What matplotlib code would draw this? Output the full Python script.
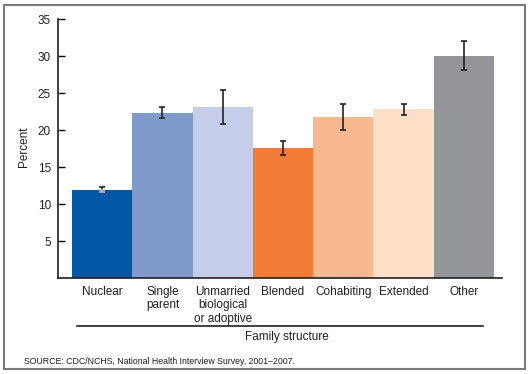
import matplotlib
matplotlib.use("Agg")
import matplotlib.pyplot as plt
from matplotlib.patches import Rectangle
from matplotlib.lines import Line2D

# data
categories = ["Nuclear", "Single\nparent", "Unmarried\nbiological\nor adoptive",
              "Blended", "Cohabiting", "Extended", "Other"]
percent = [12.0, 22.4, 23.2, 17.6, 21.8, 22.9, 30.1]
err_low = [0.4, 0.8, 2.3, 1.0, 1.8, 0.8, 2.0]
err_high = [0.4, 0.8, 2.3, 1.0, 1.8, 0.7, 2.0]
colors = ["#0057a5", "#7f9acb", "#c5cee8", "#f47b36", "#f9b890", "#fedfc8", "#949599"]
yticks = [5, 10, 15, 20, 25, 30, 35]

plt.rcParams["font.family"] = ["Liberation Sans", "DejaVu Sans"]
W, H = 531, 374
fig = plt.figure(figsize=(W / 100, H / 100), dpi=100)
fs = 8.5

# axes placed in pixel terms of the reference
ax = fig.add_axes([58 / W, (H - 278.3) / H, 444 / W, 259 / H])
x = list(range(len(categories)))
ax.bar(x, percent, width=1.0, color=colors, zorder=2)
ax.errorbar(x, percent, yerr=[err_low, err_high], fmt="none", ecolor="#222222",
            elinewidth=1.2, capsize=2, capthick=1.2, zorder=3)
# lower half of the nuclear error bar shows light on the dark bar
ax.errorbar([x[0]], [percent[0] - err_low[0] / 2], yerr=[[err_low[0] / 2], [err_low[0] / 2]],
            fmt="none", ecolor="#b8bcc8", elinewidth=1.2, capsize=2, capthick=1.2, zorder=4)

ax.set_xlim(-0.733, 6.633)
ax.set_ylim(0, 35)
ax.set_yticks(yticks)
ax.set_yticklabels([str(t) for t in yticks], fontsize=fs, color="#231f20")
ax.tick_params(axis="y", direction="in", length=5, width=1.0, pad=5)
ax.set_xticks(x)
ax.set_xticklabels(categories, fontsize=fs, color="#231f20", linespacing=1.17)
ax.tick_params(axis="x", length=0, pad=5.5)
for side in ["top", "right"]:
    ax.spines[side].set_visible(False)
for side in ["left", "bottom"]:
    ax.spines[side].set_linewidth(1.2)
    ax.spines[side].set_color("#231f20")
ax.set_ylabel("Percent", fontsize=fs, color="#231f20")
ax.yaxis.set_label_coords(-0.064, 0.507)

# group line and title for the x axis
fig.add_artist(Line2D([77 / W, 483 / W], [(H - 326) / H, (H - 326) / H],
                      color="#231f20", lw=1.2))
fig.text(287 / W, (H - 337) / H, "Family structure", fontsize=fs,
         ha="center", va="center", color="#231f20")
fig.text(24 / W, (H - 361) / H, "SOURCE: CDC/NCHS, National Health Interview Survey, 2001\u20132007.",
         fontsize=6.3, ha="left", va="center", color="#231f20")

# grey frame round the figure
fig.add_artist(Rectangle((4 / W, 5 / H), 521 / W, 364 / H, transform=fig.transFigure,
                         fill=False, edgecolor="#7a7a7a", lw=1.5))

fig.savefig("out.png", dpi=100)
